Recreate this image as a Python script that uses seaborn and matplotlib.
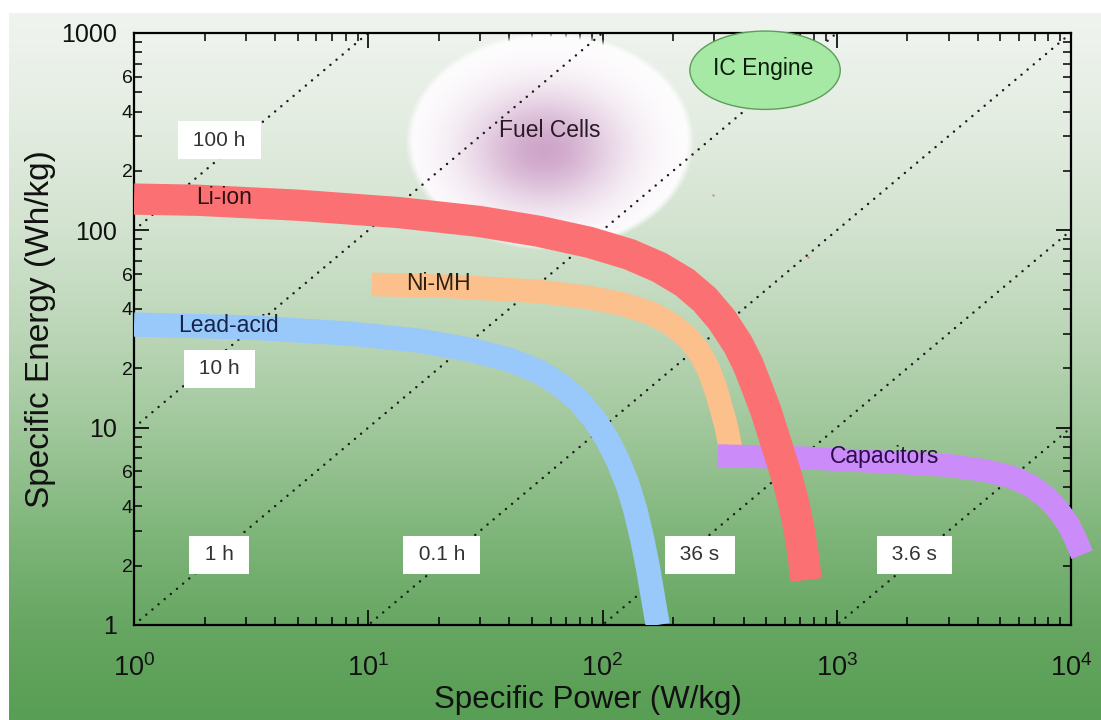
import numpy as np
import matplotlib
matplotlib.use("Agg")
import matplotlib.pyplot as plt
import matplotlib.ticker as mticker
from matplotlib.patches import Ellipse
import seaborn as sns

# ---------------------------------------------------------------------------
# Ragone chart: specific power (W/kg) against specific energy (Wh/kg)
# ---------------------------------------------------------------------------
li_ion_power = [1, 1.88, 5.04, 13.5, 29.7, 53.7, 88.0, 130.5, 175, 224, 273, 323,
                379, 418, 452, 499, 545, 584, 620, 658, 691, 719, 740]
li_ion_energy = [144, 142, 134, 123, 111, 98.8, 86.9, 75.5, 64.9, 54.5, 44.6, 35.3,
                 26.4, 20.9, 16.5, 12.1, 8.69, 6.72, 5.32, 4.06, 3.04, 2.27, 1.69]

nimh_power = [10.35, 22.1, 53.7, 88.0, 124, 162, 198, 231, 260, 284, 305, 323, 340, 353]
nimh_energy = [53.2, 52.0, 49.0, 45.7, 42.1, 37.9, 33.3, 28.6, 24.0, 19.7, 15.6, 12.3, 9.77, 7.73]

lead_acid_power = [1, 3.08, 8.25, 16.5, 26.9, 40.0, 53.7, 66.7, 79.7, 92.4, 105, 117,
                   128, 138, 148, 157, 165, 172]
lead_acid_energy = [33.3, 32.2, 30.0, 27.6, 24.9, 22.1, 19.2, 16.3, 13.6, 11.0, 8.69, 6.72,
                    5.14, 3.84, 2.70, 1.90, 1.34, 1.0]

capacitor_power = [311, 698, 1871, 3063, 4325, 5534, 6742, 7815, 8799, 9710, 10505, 11145]
capacitor_energy = [7.21, 7.04, 6.64, 6.42, 6.05, 5.64, 5.08, 4.46, 3.84, 3.26, 2.70, 2.27]

# constant discharge-time guides: energy = power * hours
discharge_hours = [100, 10, 1, 0.1, 0.01, 0.001]
discharge_labels = ["100 h", "10 h", "1 h", "0.1 h", "36 s", "3.6 s"]
discharge_label_power = [2.31, 2.31, 2.31, 20.6, 260, 2150]
discharge_label_energy = [286, 19.9, 2.27, 2.27, 2.27, 2.27]

# technology regions drawn as ellipses (power range, energy range)
fuel_cell_power = (14.3, 247)
fuel_cell_energy = (79, 1020)
ic_engine_power = (236, 1035)
ic_engine_energy = (410, 1023)

# technology names and where they sit
tech_labels = ["Li-ion", "Ni-MH", "Lead-acid", "Capacitors", "Fuel Cells", "IC Engine"]
tech_label_power = [2.43, 20.0, 2.53, 1597, 59.3, 484]
tech_label_energy = [147, 53.8, 33.0, 7.13, 322, 664]
tech_label_colors = ["#2e1010", "#2e2010", "#14244a", "#2a0c48", "#2a1a26", "#0c1a0c"]

# stray specks near the Li-ion knee
speck_power = [296, 755]
speck_energy = [151, 72.9]

x_limits = (1, 1e4)
y_limits = (1, 1000)

sns.set_theme(style="ticks", context="notebook")
plt.rcParams["font.family"] = ["Liberation Sans", "DejaVu Sans"]
plt.rcParams["mathtext.default"] = "regular"
plt.rcParams["text.color"] = "#111111"

fig = plt.figure(figsize=(11.01, 7.2), dpi=100)
fig.patch.set_facecolor("white")

# vertical pale-to-green backdrop behind the whole figure
bg_ax = fig.add_axes([0, 0, 1, 1], zorder=0)
bg_ax.set_axis_off()
stop_pos = np.array([0.0, 0.15, 0.32, 0.46, 0.60, 0.74, 0.87, 1.0])
stop_rgb = np.array([
    [240, 244, 240],
    [228, 237, 226],
    [208, 226, 205],
    [186, 213, 182],
    [158, 198, 153],
    [126, 181, 121],
    [102, 166, 98],
    [88, 158, 84],
]) / 255.0
t = np.linspace(0, 1, 400)
grad = np.stack([np.interp(t, stop_pos, stop_rgb[:, c]) for c in range(3)], axis=-1)
grad = np.repeat(grad[:, None, :], 4, axis=1)
bg_ax.imshow(grad, extent=(9 / 1101, 1, 0, 1 - 13 / 720), aspect="auto",
             interpolation="bilinear", origin="upper")
bg_ax.set_xlim(0, 1)
bg_ax.set_ylim(0, 1)

ax = fig.add_axes([134 / 1101, 95 / 720, 937 / 1101, 592 / 720], zorder=1)
ax.set_facecolor("none")
ax.set_xscale("log")
ax.set_yscale("log")
ax.set_xlim(*x_limits)
ax.set_ylim(*y_limits)

# coordinates in decades (log10 of the data), mapped through the axes' own scaling
decade_space = ax.transLimits + ax.transAxes

# fuel cell region: white ellipse with a soft purple core
fx = np.log10(fuel_cell_power)
fy = np.log10(fuel_cell_energy)
u = np.linspace(-1, 1, 360)
v = np.linspace(-1, 1, 280)
U, V = np.meshgrid(u, v)
R = np.hypot(U, V)
alpha = np.clip((1 - R) / 0.05, 0, 1)
w = 0.47 * np.exp(-(((U + 0.04) / 0.52) ** 2 + ((V + 0.08) / 0.52) ** 2))
core = np.array([0.60, 0.26, 0.56])
rgb = 1 - w[..., None] * (1 - core)
glow = np.dstack([rgb, alpha])
ax.imshow(glow, extent=(fx[0], fx[1], fy[0], fy[1]), origin="lower",
          transform=decade_space, aspect="auto", interpolation="bilinear", zorder=1)

# dotted discharge-time guides
for hours in discharge_hours:
    sns.lineplot(x=list(x_limits), y=[hours * x_limits[0], hours * x_limits[1]],
                 sort=False, estimator=None, color="#1a1a1a", linewidth=1.8,
                 linestyle=(0, (0.01, 3.2)), dash_capstyle="round", zorder=2, ax=ax)

# technology bands
bands = [
    (lead_acid_power, lead_acid_energy, "#99c8fa", 17.5, True, 3.0),
    (nimh_power, nimh_energy, "#fcc08c", 17.0, True, 3.1),
    (capacitor_power, capacitor_energy, "#cb8cfa", 16.5, False, 3.2),
    (li_ion_power, li_ion_energy, "#fb7173", 22.5, True, 3.3),
]
for px, ey, col, lw, clip, z in bands:
    sns.lineplot(x=px, y=ey, sort=False, estimator=None, color=col, linewidth=lw,
                 solid_capstyle="butt", solid_joinstyle="round", clip_on=clip,
                 zorder=z, ax=ax)

ax.scatter(speck_power, speck_energy, s=3, color="#e08a8a", zorder=3.4, linewidths=0)

# IC engine region
ix = np.log10(ic_engine_power)
iy = np.log10(ic_engine_energy)
ax.add_patch(Ellipse(((ix[0] + ix[1]) / 2, (iy[0] + iy[1]) / 2), ix[1] - ix[0], iy[1] - iy[0],
                     transform=decade_space, facecolor="#a6e9a4", edgecolor="#5c9e5a",
                     linewidth=1.0, zorder=4, clip_on=False))

for name, p, e, col in zip(tech_labels, tech_label_power, tech_label_energy, tech_label_colors):
    ax.text(p, e, name, ha="center", va="center", fontsize=16.5, color=col, zorder=6)

for name, p, e in zip(discharge_labels, discharge_label_power, discharge_label_energy):
    ax.text(p, e, f" {name} ", ha="center", va="center", fontsize=15, color="#333333",
            zorder=6, bbox=dict(boxstyle="square,pad=0.45", facecolor="white",
                                edgecolor="none"))

# axes frame and ticks
for sp in ax.spines.values():
    sp.set_linewidth(1.6)
    sp.set_color("black")
    sp.set_zorder(2.5)

ax.xaxis.set_major_locator(mticker.LogLocator(base=10, numticks=10))
ax.xaxis.set_minor_locator(mticker.LogLocator(base=10, subs=np.arange(2, 10), numticks=40))
ax.xaxis.set_major_formatter(mticker.FuncFormatter(
    lambda val, pos: r"$\mathregular{10^{%d}}$" % int(round(np.log10(val)))))
ax.xaxis.set_minor_formatter(mticker.NullFormatter())

ax.yaxis.set_major_locator(mticker.LogLocator(base=10, numticks=10))
ax.yaxis.set_minor_locator(mticker.LogLocator(base=10, subs=np.arange(2, 10), numticks=40))
ax.yaxis.set_major_formatter(mticker.FuncFormatter(lambda val, pos: "%d" % int(round(val))))


def minor_label(val, pos):
    lead = int(round(val / 10 ** np.floor(np.log10(val) + 1e-9)))
    return str(lead) if lead in (2, 4, 6) else ""


ax.yaxis.set_minor_formatter(mticker.FuncFormatter(minor_label))

ax.tick_params(which="both", direction="in", top=True, right=True, color="black",
               labelcolor="#111111")
ax.tick_params(which="major", length=11, width=1.2)
ax.tick_params(which="minor", length=6, width=1.1)
ax.tick_params(axis="x", which="major", labelsize=19.5, pad=21)
ax.tick_params(axis="y", which="major", labelsize=18, pad=12)
ax.tick_params(axis="y", which="minor", labelsize=14, pad=1)

ax.set_xlabel("Specific Power (W/kg)", fontsize=22.5, color="#111111")
ax.set_ylabel("Specific Energy (Wh/kg)", fontsize=24, color="#111111")
ax.xaxis.set_label_coords(0.4845, -0.101)
ax.yaxis.set_label_coords(-0.083, 0.5)

ax.set_xlim(*x_limits)
ax.set_ylim(*y_limits)

fig.savefig("out.png", dpi=100)
